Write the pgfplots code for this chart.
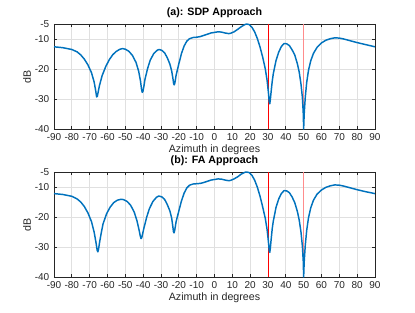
\documentclass[border=0pt]{standalone}
\usepackage{pgfplots}
\pgfplotsset{compat=1.18}
\usepackage{fontspec}
\setmainfont{Liberation Sans}
\definecolor{mblue}{rgb}{0,0.447,0.741}
\definecolor{gridc}{gray}{0.88}
\definecolor{axc}{gray}{0.15}
\pgfplotsset{
  mystyle/.style={
    scale only axis, width=240.75pt, height=78.75pt,
    anchor=south west,
    xmin=-90, xmax=90, ymin=-40, ymax=-5,
    xtick={-90,-80,...,90}, ytick={-40,-30,-20,-10,-5},
    grid=major, major grid style={gridc, line width=0.5pt},
    axis line style={axc, line width=0.5pt},
    tick style={axc, line width=0.5pt}, tick align=inside,
    major tick length=2.5pt,
    ticklabel style={font=\fontsize{7.5}{9}\selectfont, text=axc},
    /pgf/number format/assume math mode=true,
    xlabel={Azimuth in degrees}, ylabel={dB},
    label style={font=\fontsize{8}{10}\selectfont, text=axc},
    xlabel style={yshift=4pt}, ylabel style={yshift=-4pt},
    title style={font=\bfseries\fontsize{8}{9}\selectfont, yshift=-5pt},
    no markers,
  },
  curve/.style={mblue, line width=1.1pt, mark=none, line join=round},
}
\begin{document}
\begin{tikzpicture}[x=0.75pt,y=0.75pt]
\path (0,0) rectangle (415,312);
\begin{axis}[mystyle, at={(40.5pt,137.25pt)}, title={(a): SDP Approach}]
\addplot[red, line width=0.6pt] coordinates {(30,-40) (30,-5)};
\addplot[red!45, line width=0.8pt] coordinates {(50,-40) (50,-5)};
\addplot[curve] coordinates {(-90,-12.6) (-85,-12.9) (-80,-13.5) (-77,-14.3) (-75,-15.3) (-73,-16.7) (-71,-18.6) (-69,-21.2) (-67.5,-24.3) (-66.6,-27.3) (-66.1,-29.3) (-65.7,-29.1) (-65.2,-27.6) (-64.5,-25.5) (-63,-22.2) (-61,-19.2) (-59,-16.9) (-57,-15.2) (-55,-14.1) (-53,-13.4) (-51.5,-13.2) (-50,-13.4) (-48,-14.1) (-46,-15.5) (-44,-17.8) (-42.5,-20.8) (-41.5,-24) (-40.9,-26.8) (-40.5,-27.8) (-40.1,-27.4) (-39.6,-25.8) (-39,-23.5) (-37.5,-19.8) (-36,-17) (-34,-14.8) (-32,-13.7) (-31,-13.5) (-29.5,-13.8) (-28,-14.6) (-26.5,-16.2) (-25,-18.4) (-24,-20.7) (-23.3,-23.2) (-22.9,-24.9) (-22.6,-25.3) (-22.2,-24.6) (-21.5,-22) (-20,-18.3) (-18.5,-14.8) (-17,-12.3) (-15.5,-10.7) (-14,-9.9) (-12,-9.5) (-10,-9.4) (-8,-9.2) (-6,-8.8) (-4,-8.4) (-2,-8.0) (0,-7.8) (2,-7.6) (4,-7.7) (6,-8.0) (8,-8.2) (9,-8.1) (11,-7.6) (13,-6.8) (15,-5.9) (17,-5.2) (18,-5.0) (19.5,-5.2) (21,-6.1) (22.5,-7.6) (24,-9.8) (25.5,-12.6) (27,-16) (28.5,-20) (29.5,-23.8) (30.2,-27.6) (30.7,-31.0) (31.0,-31.6) (31.3,-30.3) (31.8,-27.3) (32.4,-24) (33,-21.5) (34.5,-17.2) (36,-14.4) (37.5,-12.5) (39,-11.5) (40.5,-11.6) (42,-12.2) (43.5,-13.6) (45,-15.3) (46.5,-18.3) (47.5,-21) (48.5,-25) (49.3,-29.5) (49.8,-35) (50,-40) (50.3,-35) (50.9,-29.5) (51.7,-24.5) (52.7,-20.5) (54,-17.2) (55.5,-14.8) (57.5,-12.8) (60,-11.3) (62.5,-10.4) (65,-9.9) (67.5,-9.6) (70,-9.7) (72.5,-10.0) (75,-10.4) (80,-11.2) (85,-11.9) (90,-12.6)};
\end{axis}
\begin{axis}[mystyle, at={(40.5pt,26.25pt)}, title={(b): FA Approach}]
\addplot[red, line width=0.6pt] coordinates {(30,-40) (30,-5)};
\addplot[red!45, line width=0.8pt] coordinates {(50,-40) (50,-5)};
\addplot[curve] coordinates {(-90,-12.2) (-85,-12.5) (-80,-13.1) (-77,-14) (-75,-15) (-73,-16.5) (-71,-18.6) (-69,-21.5) (-67.5,-25) (-66.4,-28.7) (-65.8,-31.1) (-65.4,-31.6) (-65.0,-30.7) (-64.4,-28.3) (-63.5,-25.3) (-62.5,-22.3) (-60.5,-18.9) (-58.5,-16.7) (-56.5,-15.2) (-54.5,-14.4) (-52.5,-14.1) (-51,-14.2) (-49,-14.8) (-47,-16.1) (-45,-18.4) (-43.5,-21.2) (-42.3,-24.3) (-41.6,-26.4) (-41.2,-27.2) (-40.8,-26.9) (-40.3,-25.6) (-39.5,-23.5) (-38,-20) (-36.5,-17.2) (-34.5,-14.8) (-32.5,-13.4) (-31.2,-13) (-29.5,-13.3) (-28,-14.1) (-26.5,-15.8) (-25,-18) (-24,-20.4) (-23.4,-23.0) (-23.0,-24.9) (-22.7,-25.3) (-22.3,-24.4) (-21.5,-21.5) (-20,-18) (-18.5,-14.6) (-17,-12) (-15.5,-10.3) (-14,-9.4) (-12,-9.0) (-10,-8.9) (-8,-8.8) (-6,-8.5) (-4,-8.1) (-2,-7.7) (0,-7.5) (2,-7.3) (4,-7.4) (6,-7.7) (8,-7.9) (9,-7.8) (11,-7.3) (13,-6.6) (15,-5.7) (17,-5.1) (18,-5.0) (19.5,-5.2) (21,-6.1) (22.5,-7.7) (24,-10) (25.5,-13) (27,-16.6) (28.5,-20.5) (29.5,-24.2) (30.2,-28.0) (30.7,-31.2) (31.0,-31.8) (31.3,-30.5) (31.8,-27.3) (32.4,-23.8) (33,-21.3) (34.5,-16.8) (36,-14) (37.5,-12.2) (39,-11.2) (40.5,-11.3) (42,-11.9) (43.5,-13.3) (45,-15.2) (46.5,-18.2) (47.5,-21) (48.5,-25) (49.3,-29.8) (49.8,-35) (50,-40) (50.3,-35) (50.9,-29.5) (51.7,-24.5) (52.7,-20.3) (54,-16.9) (55.5,-14.4) (57.5,-12.4) (60,-11) (62.5,-10.1) (65,-9.6) (67.5,-9.3) (70,-9.4) (72.5,-9.7) (75,-10.1) (80,-10.9) (85,-11.6) (90,-12.2)};
\end{axis}
\end{tikzpicture}
\end{document}
